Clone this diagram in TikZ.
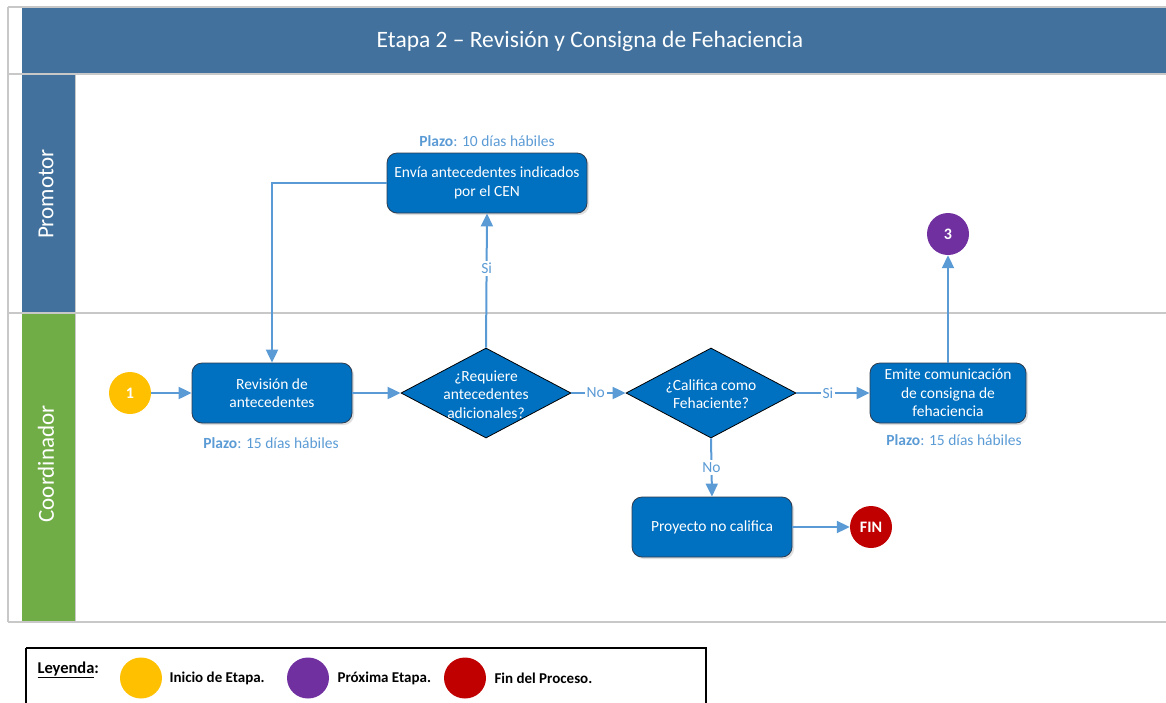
\documentclass[tikz,border=0pt]{standalone}
\usepackage{fontspec}
\setmainfont{Carlito}
\usetikzlibrary{shapes.geometric,arrows.meta,shadows}
\definecolor{titleblue}{HTML}{41719C}
\definecolor{lanegreen}{HTML}{70AD47}
\definecolor{boxblue}{HTML}{0070C0}
\definecolor{linkblue}{HTML}{5B9BD5}
\definecolor{framegray}{HTML}{C8C8C8}
\definecolor{startyellow}{HTML}{FFC000}
\definecolor{nextpurple}{HTML}{7030A0}
\definecolor{endred}{HTML}{C00000}
\definecolor{boxedge}{HTML}{2E3B4E}
\tikzset{
  frameline/.style={draw=framegray, line width=2pt},
  procbox/.style={rectangle, rounded corners=10pt, fill=boxblue, draw=boxedge, line width=0.8pt,
    text=white, align=center, minimum width=160pt, minimum height=60pt, inner sep=2pt,
    font=\fontsize{15.5}{18.5}\selectfont,
    drop shadow={opacity=0.25, shadow xshift=2pt, shadow yshift=-2pt}},
  decision/.style={diamond, fill=boxblue, draw=black, line width=0.8pt, text=white,
    minimum width=170pt, minimum height=90pt, inner sep=0pt,
    font=\fontsize{15.5}{18.5}\selectfont},
  event/.style={circle, minimum size=42pt, inner sep=0pt, text=white,
    font=\fontsize{16}{18}\selectfont\bfseries},
  flow/.style={draw=linkblue, line width=2pt, -{Triangle[length=13pt,width=12pt]}},
  flowlabel/.style={fill=white, text=linkblue, inner sep=2pt, font=\fontsize{15.5}{17}\selectfont},
  plazo/.style={text=linkblue, font=\fontsize{15.5}{17}\selectfont},
  lanelabel/.style={text=white, rotate=90, font=\fontsize{23}{26}\selectfont},
  legendtext/.style={anchor=west, text=black, font=\fontsize{15}{17}\selectfont\bfseries},
  legendmark/.style={ellipse, minimum width=42pt, minimum height=41pt, inner sep=0pt}
}
\newcommand{\diamtext}[1]{\makebox[0pt]{\smash{\raisebox{-6.5pt}{\begin{tabular}{@{}c@{}}#1\end{tabular}}}}}
\begin{document}
\begin{tikzpicture}[x=1pt, y=-1pt]
\useasboundingbox (0,0) rectangle (1166,702);
% title bar and lanes
\fill[titleblue] (22,8) rectangle (1166,73);
\node[text=white, font=\fontsize{23.5}{26}\selectfont] (title) at (590,41) {Etapa 2 -- Revisión y Consigna de Fehaciencia};
\fill[titleblue] (22,74) rectangle (75,313);
\fill[lanegreen] (22,313) rectangle (75,621);
\draw[frameline] (8,7) -- (1166,7);
\draw[frameline] (8,7) -- (8,622);
\draw[frameline] (8,74) -- (1166,74);
\draw[frameline] (8,313) -- (1166,313);
\draw[frameline] (8,622) -- (1166,622);
\draw[draw=framegray, line width=1pt] (75,74) -- (75,621);
\node[lanelabel] (lprom) at (46,194) {Promotor};
\node[lanelabel] (lcoord) at (46,464) {Coordinador};

% nodes
\node[event, fill=startyellow] (c1) at (130,393) {1};
\node[procbox] (rev) at (272,393) {Revisión de\\antecedentes};
\node[plazo] (prev) at (271,443) {\textbf{Plazo}: 15 días hábiles};
\node[decision] (d1) at (486,393) {\diamtext{¿Requiere\\antecedentes\\adicionales?}};
\node[procbox, minimum width=200pt] (env) at (487,183) {Envía antecedentes indicados\\por el CEN};
\node[plazo] (penv) at (487,141) {\textbf{Plazo}: 10 días hábiles};
\node[decision] (d2) at (711,393) {\diamtext{¿Califica como\\Fehaciente?}};
\node[procbox, minimum width=156pt] (emi) at (948,393) {Emite comunicación\\de consigna de\\fehaciencia};
\node[plazo] (pemi) at (954,440) {\textbf{Plazo}: 15 días hábiles};
\node[event, fill=nextpurple] (c3) at (948,234) {3};
\node[procbox] (proy) at (712,527) {Proyecto no califica};
\node[event, fill=endred] (fin) at (871,527) {FIN};

% connectors
\draw[flow] (c1) -- (rev);
\draw[flow] (rev) -- (d1);
\draw[flow] (d1.north) -- node[flowlabel, pos=0.59] (lsi1) {Si} (env.south);
\draw[flow] (env.west) -| (rev.north);
\draw[flow] (d1.east) -- node[flowlabel, pos=0.45] (lno1) {No} (d2.west);
\draw[flow] (d2.east) -- node[flowlabel, pos=0.43] (lsi2) {Si} (emi.west);
\draw[flow] (d2.south) -- node[flowlabel, pos=0.5] (lno2) {No} (proy.north);
\draw[flow] (emi.north) -- (c3.south);
\draw[flow] (proy.east) -- (fin.west);

% legend
\draw[black, line width=1.3pt] (26,648) -- (706,648) -- (706,720) (26,648) -- (26,720);
\node[legendtext, font=\fontsize{16.5}{18}\selectfont\bfseries] (ley) at (34,670) {\underline{Leyenda}:};
\node[legendmark, fill=startyellow] (lg1) at (141,678) {};
\node[legendtext] (lt1) at (166,678) {Inicio de Etapa.};
\node[legendmark, fill=nextpurple] (lg2) at (308,678) {};
\node[legendtext] (lt2) at (334,678) {Próxima Etapa.};
\node[legendmark, fill=endred] (lg3) at (465,678) {};
\node[legendtext] (lt3) at (491,678) {Fin del Proceso.};
\end{tikzpicture}
\end{document}
